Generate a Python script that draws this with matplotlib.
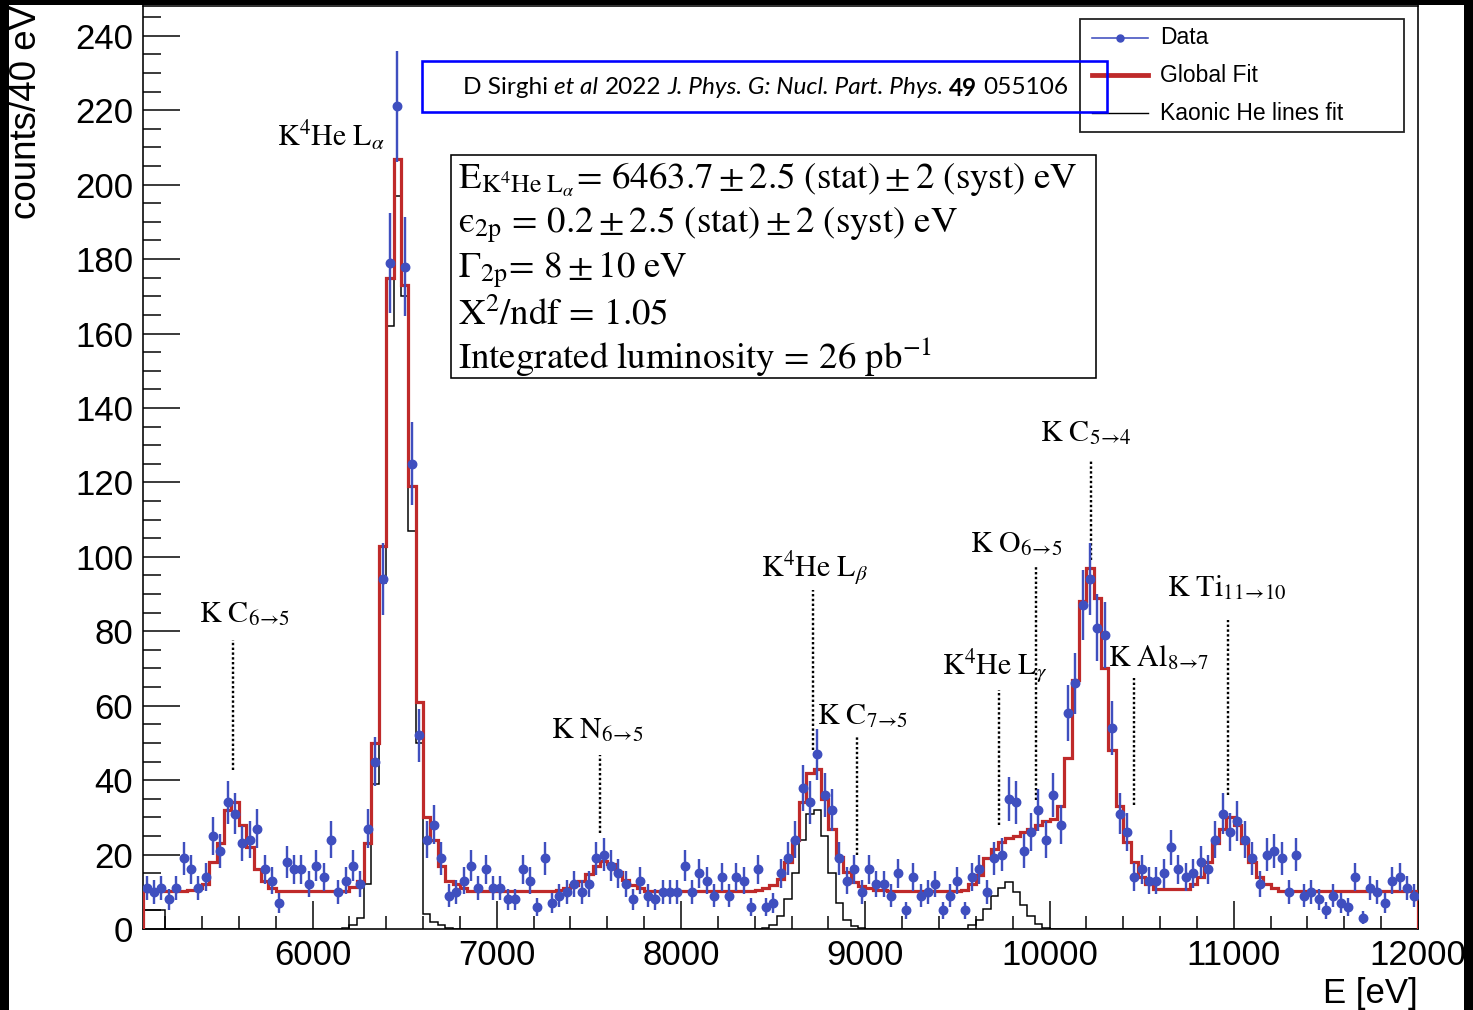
import numpy as np
import matplotlib
matplotlib.use("Agg")
import matplotlib.pyplot as plt
from matplotlib.lines import Line2D
from matplotlib.patches import Rectangle
from matplotlib.ticker import MultipleLocator

plt.rcParams["mathtext.fontset"] = "stix"
plt.rcParams["font.family"] = ["Liberation Sans", "DejaVu Sans"]

# ---------------------------------------------------------------- data
e_low = 5080          # lower edge of the first bin [eV]
e_width = 40          # bin width [eV]

counts = [
    11, 10, 11, 8, 11, 19, 16, 11, 14, 25,
    21, 34, 31, 23, 24, 27, 16, 13, 7, 18,
    16, 16, 12, 17, 14, 24, 10, 13, 17, 12,
    27, 45, 94, 179, 221, 178, 125, 52, 24, 28,
    19, 9, 10, 13, 17, 11, 16, 11, 11, 8,
    8, 16, 13, 6, 19, 7, 9, 10, 12, 10,
    12, 19, 20, 17, 15, 12, 8, 13, 9, 8,
    10, 10, 10, 17, 10, 15, 13, 9, 14, 9,
    14, 13, 6, 16, 6, 7, 15, 19, 24, 38,
    34, 47, 36, 32, 19, 13, 16, 10, 16, 12,
    12, 9, 15, 5, 14, 9, 10, 12, 5, 9,
    13, 5, 14, 16, 10, 19, 20, 35, 34, 21,
    26, 32, 24, 36, 28, 58, 66, 87, 94, 81,
    79, 54, 31, 26, 14, 16, 13, 13, 15, 22,
    16, 14, 15, 18, 16, 24, 31, 26, 29, 24,
    19, 12, 20, 21, 19, 10, 20, 9, 10, 8,
    5, 9, 7, 6, 14, 3, 11, 10, 7, 13,
    14, 11, 9,
]

global_fit = [
    10.3, 10.3, 10.3, 10.3, 10.3, 10.3, 10.5, 11, 12, 18,
    23, 32, 34, 28, 22, 16, 13, 11, 10.3, 10.3,
    10.3, 10.3, 10.3, 10.3, 10.3, 10.3, 10.3, 10.3, 11.3, 13,
    23, 50, 103, 175, 207, 173, 119, 61, 30, 24,
    17, 13, 12, 11, 10.3, 10.3, 10.3, 10.3, 10.3, 10.3,
    10.3, 10.3, 10.3, 10.3, 10.3, 10.3, 10.6, 11, 11.7, 13,
    14.7, 17, 18.4, 17.5, 15.4, 13.2, 11.7, 10.9, 10.3, 10.3,
    10.3, 10.3, 10.3, 10.3, 10.3, 10.3, 10.3, 10.3, 10.3, 10.3,
    10.3, 10.3, 10.3, 10.5, 10.9, 11.7, 13.5, 18, 24, 34,
    42, 43, 35, 27, 19.4, 15.4, 12.7, 11.6, 11, 10.5,
    10.5, 10.1, 10.1, 10.1, 10.1, 10.1, 10.1, 10.1, 10.1, 10.1,
    10.1, 10.5, 12, 14.5, 19, 21.5, 23.5, 24.5, 25, 26,
    27, 28, 29, 29.5, 33, 46, 67, 88, 97, 89,
    70, 48, 33, 23.5, 18, 14, 12, 10.7, 10.7, 10.7,
    10.7, 10.7, 12, 14, 18, 23, 27, 30, 28, 23,
    18, 14, 12, 11, 10.2, 10.2, 10.2, 10.2, 10.2, 10.2,
    10.2, 10.2, 10.2, 10.2, 10.2, 10.2, 10.2, 10.2, 10.2, 10.2,
    10.2, 10.2, 10.2,
]

he_lines_fit = [
    5, 5, 5, 0, 0, 0, 0, 0, 0, 0,
    0, 0, 0, 0, 0, 0, 0, 0, 0, 0,
    0, 0, 0, 0, 0, 0, 0, 0.3, 1, 3,
    12, 39, 93, 162, 197, 170, 107, 50, 4, 2,
    1, 0.3, 0, 0, 0, 0, 0, 0, 0, 0,
    0, 0, 0, 0, 0, 0, 0, 0, 0, 0,
    0, 0, 0, 0, 0, 0, 0, 0, 0, 0,
    0, 0, 0, 0, 0, 0, 0, 0, 0, 0,
    0, 0, 0, 0, 0.3, 1.2, 3.5, 8, 15, 24,
    31, 32, 25, 15, 7, 2.5, 0.8, 0.2, 0, 0,
    0, 0, 0, 0, 0, 0, 0, 0, 0, 0,
    0, 0, 1, 2.5, 5.5, 9, 11, 12.5, 10, 6.5,
    3.5, 1.3, 0.4, 0, 0, 0, 0, 0, 0, 0,
    0, 0, 0, 0, 0, 0, 0, 0, 0, 0,
    0, 0, 0, 0, 0, 0, 0, 0, 0, 0,
    0, 0, 0, 0, 0, 0, 0, 0, 0, 0,
    0, 0, 0, 0, 0, 0, 0, 0, 0, 0,
    0, 0, 0,
]

x_ticks = [6000, 7000, 8000, 9000, 10000, 11000, 12000]
y_ticks = [0, 20, 40, 60, 80, 100, 120, 140, 160, 180, 200, 220, 240]

# transition names, energies [eV] and the counts range spanned by their markers
line_names = [
    r"$\mathrm{K\ C}_{6\!\rightarrow\!5}$",
    r"$\mathrm{K\ N}_{6\!\rightarrow\!5}$",
    r"$\mathrm{K^4He\ L}_{\beta}$",
    r"$\mathrm{K\ C}_{7\!\rightarrow\!5}$",
    r"$\mathrm{K^4He\ L}_{\gamma}$",
    r"$\mathrm{K\ O}_{6\!\rightarrow\!5}$",
    r"$\mathrm{K\ C}_{5\!\rightarrow\!4}$",
    r"$\mathrm{K\ Al}_{8\!\rightarrow\!7}$",
    r"$\mathrm{K\ Ti}_{11\!\rightarrow\!10}$",
]
line_energy = [5571, 7562, 8718, 8957, 9727, 9928, 10226, 10460, 10969]
marker_top = [77.7, 46.8, 91.1, 52.1, 64.2, 97.8, 126.0, 67.5, 83.0]
marker_bottom = [42.7, 25.8, 48.1, 19.9, 28.0, 34.7, 99.2, 33.3, 36.0]
# label anchor (energy, counts) for each transition name
label_pos = [(5631, 84.7), (7546, 53.5), (8723, 97.0), (8984, 57.2),
             (9705, 70.7), (9819, 103.5), (10199, 133.3), (10595, 72.8),
             (10959, 91.6)]
he_alpha_name = r"$\mathrm{K^4He\ L}_{\alpha}$"
he_alpha_pos = (6103, 213.4)

fit_lines = [
    r"$\mathrm{E}_{\mathrm{K^4He\ L}_{\alpha}}\!=\,6463.7\pm2.5\ \mathrm{(stat)}\pm2\ \mathrm{(syst)\ eV}$",
    r"$\mathrm{ϵ}_{\mathrm{2p}}\,=\,0.2\pm2.5\ \mathrm{(stat)}\pm2\ \mathrm{(syst)\ eV}$",
    r"$\Gamma_{\mathrm{2p}}\!=\,8\pm10\ \mathrm{eV}$",
    r"$\mathrm{X}^{2}/\mathrm{ndf}\,=\,1.05$",
    r"$\mathrm{Integrated\ luminosity}\,=\,26\ \mathrm{pb}^{\mathrm{-1}}$",
]

citation = [("D Sirghi", "normal", "normal"), ("et al", "italic", "normal"),
            ("2022", "normal", "normal"),
            ("J. Phys. G: Nucl. Part. Phys.", "italic", "normal"),
            ("49", "normal", "bold"), ("055106", "normal", "normal")]

legend_labels = ["Data", "Global Fit", "Kaonic He lines fit"]

# ---------------------------------------------------------------- styling
W, H, DPI = 1473, 1010, 100
BLUE = "#3f4fbf"
RED = "#bf2a2a"
PT = 72.0 / DPI       # points per pixel


def fxy(px, py):
    """Figure fraction from pixel position measured from the top-left."""
    return px / W, 1.0 - py / H


fig = plt.figure(figsize=(W / DPI, H / DPI), dpi=DPI, facecolor="white")
renderer = fig.canvas.get_renderer()

ax = fig.add_axes([143 / W, 1 - 929 / H, 1275 / W, 923 / H])
ax.set_xlim(e_low, e_low + e_width * len(counts))
ax.set_ylim(0, 248)

edges = e_low + e_width * np.arange(len(counts) + 1)
centers = 0.5 * (edges[:-1] + edges[1:])
cnt = np.asarray(counts, dtype=float)

ax.stairs(he_lines_fit, edges, baseline=0, color="black", lw=1.5 * PT, zorder=2)
ax.stairs(global_fit, edges, baseline=0, color=RED, lw=3.2 * PT, zorder=3)
ax.errorbar(centers, cnt, yerr=np.sqrt(cnt), fmt="o", ms=8.5 * PT,
            color=BLUE, ecolor=BLUE, elinewidth=2.4 * PT, capsize=0, zorder=4)

# transition markers and names
for e, top, bot in zip(line_energy, marker_top, marker_bottom):
    ax.plot([e, e], [bot, top], color="black", lw=2.4 * PT,
            linestyle=(0, (1, 1)), zorder=1)

label_size = 21.5
for name, (lx, ly) in zip(line_names, label_pos):
    ax.text(lx, ly, name, fontsize=label_size, ha="center", va="center",
            color="black", zorder=5)
ax.text(*he_alpha_pos, he_alpha_name, fontsize=label_size, ha="center",
        va="center", color="black", zorder=5)

# axes styling
for s in ax.spines.values():
    s.set_linewidth(1.6 * PT)
    s.set_color("black")
ax.set_xticks(x_ticks)
ax.set_xticklabels([str(v) for v in x_ticks])
ax.set_yticks(y_ticks)
ax.set_yticklabels([str(v) for v in y_ticks])
ax.xaxis.set_minor_locator(MultipleLocator(200))
ax.yaxis.set_minor_locator(MultipleLocator(5))
ax.tick_params(axis="both", which="both", direction="in", top=False,
               right=False, width=1.5 * PT, colors="black", labelsize=25)
ax.tick_params(axis="y", which="major", length=37 * PT, pad=10 * PT)
ax.tick_params(axis="y", which="minor", length=18 * PT)
ax.tick_params(axis="x", which="major", length=28 * PT, pad=10 * PT)
ax.tick_params(axis="x", which="minor", length=13 * PT)

fig.text(*fxy(1418, 1003), "E [eV]", fontsize=25, ha="right", va="baseline")
fig.text(*fxy(27, 5), "counts/40 eV", fontsize=26.5, rotation=90,
         ha="center", va="top")

# ---------------------------------------------------------------- fit summary box
fig.add_artist(Rectangle(fxy(451, 378), 645 / W, 223 / H,
                         transform=fig.transFigure, facecolor="white",
                         edgecolor="black", lw=1.6 * PT, zorder=6))
probe = fig.text(0, 0, fit_lines[4], fontsize=20)
w5 = probe.get_window_extent(renderer).width
probe.remove()
box_size = 20 * 475.0 / w5
for txt, py in zip(fit_lines, [180, 226, 270, 315, 357]):
    fig.text(*fxy(458, py), txt, fontsize=box_size, ha="left", va="center",
             zorder=7)

# ---------------------------------------------------------------- citation
def seg_width(s, size, style, weight):
    t = fig.text(0, 0, s, fontsize=size, family="Lato", style=style,
                 weight=weight)
    w = t.get_window_extent(renderer).width
    t.remove()
    return w


base = 10.0
space = seg_width("x x", base, "normal", "normal") - seg_width("xx", base, "normal", "normal")
total = sum(seg_width(s, base, st, wt) for s, st, wt in citation) + space * (len(citation) - 1)
cite_size = base * 604.0 / total
space *= cite_size / base
x = 463.0
for s, st, wt in citation:
    fig.text(*fxy(x, 88), s, fontsize=cite_size, family="Lato", style=st,
             weight=wt, ha="left", va="center", zorder=9)
    x += seg_width(s, cite_size, st, wt) + space
fig.add_artist(Rectangle(fxy(422, 112), 685 / W, 51 / H,
                         transform=fig.transFigure, facecolor="none",
                         edgecolor="#0000ff", lw=2.6 * PT, zorder=10))

# ---------------------------------------------------------------- legend
fig.add_artist(Rectangle(fxy(1080, 132), 324 / W, 113 / H,
                         transform=fig.transFigure, facecolor="white",
                         edgecolor="#222222", lw=1.8 * PT, zorder=6))
rows = [38, 75, 113]
x0, y0 = fxy(1092, rows[0])
x1, _ = fxy(1148, rows[0])
fig.add_artist(Line2D([x0, x1], [y0, y0], transform=fig.transFigure,
                      color=BLUE, lw=1.6 * PT, zorder=7))
fig.add_artist(Line2D([(x0 + x1) / 2], [y0], transform=fig.transFigure,
                      color=BLUE, marker="o", ms=7 * PT, zorder=8))
_, y1 = fxy(0, rows[1])
fig.add_artist(Line2D([x0, x1], [y1, y1], transform=fig.transFigure,
                      color=RED, lw=4.8 * PT, zorder=7))
_, y2 = fxy(0, rows[2])
fig.add_artist(Line2D([x0, x1], [y2, y2], transform=fig.transFigure,
                      color="black", lw=1.4 * PT, zorder=7))
for lab, py in zip(legend_labels, rows):
    fig.text(*fxy(1160, py), lab, fontsize=16.5, ha="left", va="center",
             zorder=8)

# ---------------------------------------------------------------- dark border
for (px, py, pw, ph) in [(0, 1010, 9, 1010), (0, 5, 1473, 5), (1464, 1010, 9, 1010)]:
    fig.add_artist(Rectangle(fxy(px, py), pw / W, ph / H,
                             transform=fig.transFigure, facecolor="black",
                             edgecolor="none", zorder=20))

fig.savefig("out.png", dpi=DPI, facecolor="white")
